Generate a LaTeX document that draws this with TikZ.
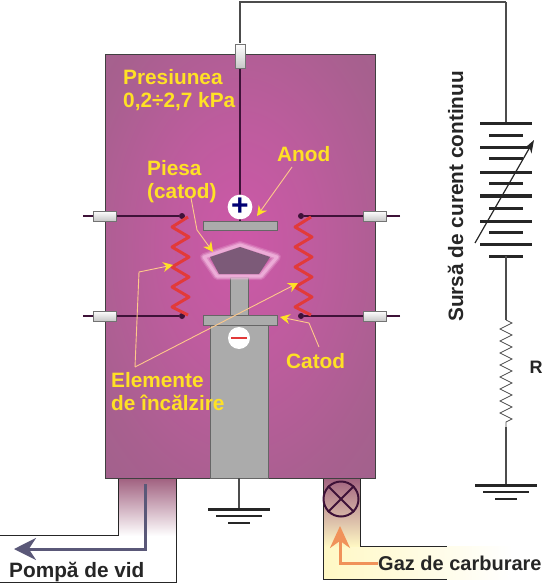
\documentclass[tikz,border=0pt]{standalone}
\usepackage{fontspec}
\setmainfont{Liberation Sans}
\usetikzlibrary{arrows.meta, decorations.pathmorphing}
\definecolor{lblYellow}{HTML}{FFE125}
\definecolor{leadPeach}{HTML}{FFC98A}
\definecolor{wallPurple}{HTML}{A0607F}
\definecolor{wireDark}{HTML}{3E1238}
\definecolor{pumpSlate}{HTML}{5A5878}
\definecolor{gasOrange}{HTML}{F0925A}
\definecolor{gasYellow}{HTML}{FFF8C4}
\definecolor{plateGray}{HTML}{ABABAB}
\definecolor{coilRed}{HTML}{E23A3A}
\definecolor{glowA}{HTML}{CD58A8}
\definecolor{glowB}{HTML}{BE5C9E}
\definecolor{glowC}{HTML}{A8608F}
\definecolor{glowD}{HTML}{986487}
\definecolor{pieceDark}{HTML}{7C5A78}
\definecolor{pieceGlow}{HTML}{F0B4DC}
\pgfdeclareradialshading{chamberGlow}{\pgfpoint{0bp}{3bp}}{
    color(0bp)=(glowA);
    color(14bp)=(glowB);
    color(30bp)=(glowC);
    color(48bp)=(glowD);
    color(60bp)=(wallPurple);
    color(100bp)=(wallPurple)}
\tikzset{
    >=Stealth,
    % Body
    chamber/.style={rectangle, draw=black!75, line width=1pt, shade, shading=chamberGlow,
                    minimum width=270pt, minimum height=423pt, inner sep=0pt},
    plate/.style={rectangle, draw=black!60, fill=plateGray, line width=.7pt, inner sep=0pt},
    bushing/.style={rectangle, draw=black!55, line width=.6pt, inner sep=0pt,
                    top color=white, bottom color=black!22},
    sign/.style={circle, fill=white, minimum size=22pt, inner sep=0pt},
    dot/.style={circle, fill=wireDark, minimum size=6pt, inner sep=0pt},
    valve/.style={circle, draw=wireDark, line width=2pt, minimum size=35pt, inner sep=0pt},
    % Lines
    wire/.style={line width=1.2pt, draw=wireDark},
    outwire/.style={line width=1.3pt, draw=black!70},
    pipeline/.style={line width=1pt, draw=black!85},
    cell/.style={line width=3pt, draw=black!85},
    leader/.style={line width=.9pt, draw=leadPeach,
                   -{Stealth[length=10pt, width=10pt, color=lblYellow]}},
    % Labels
    lbl/.style={font=\fontsize{20.8}{23}\selectfont\bfseries, text=lblYellow, inner sep=0pt, align=left},
    lblDark/.style={font=\fontsize{20.8}{23}\selectfont\bfseries, text=black!85, inner sep=0pt},
    % Pics
    coil/.pic={\draw[line width=3pt, draw=coilRed, line join=round]
        (0,0) -- (-16,10) -- (1,20) -- (-16,30) -- (1,40) -- (-16,50) -- (1,60) -- (-16,70)
        -- (1,80) -- (-16,90) -- (0,98);},
    earth/.pic={
        \draw[line width=3pt, black!85] (-31,0) -- (31,0);
        \draw[line width=1.8pt, black!85] (-23,7) -- (23,7);
        \draw[line width=1.4pt, black!85] (-11,14) -- (11,14);}
}

\begin{document}
\begin{tikzpicture}[x=1pt, y=-1pt]
\useasboundingbox (0,0) rectangle (546,585);

% pipes under the chamber
\node[rectangle, minimum width=58pt, minimum height=58pt, inner sep=0pt, top color=wallPurple, bottom color=white] (pipeL) at (147,507) {};
\fill[left color=gasYellow, right color=white] (323,546) rectangle (512,579);
\node[rectangle, minimum width=37pt, minimum height=69pt, inner sep=0pt, top color=wallPurple, bottom color=gasYellow] (pipeR) at (341.5,512) {};

\node[chamber] (body) at (240,266.5) {};

% pipe walls
\coordinate (pLa) at (118,479);
\coordinate (pLb) at (118,535);
\coordinate (pLc) at (0,535);
\coordinate (pLd) at (176,479);
\coordinate (pLe) at (176,582);
\coordinate (pLf) at (0,582);
\draw[pipeline] (pLa) -- (pLb) -- (pLc);
\draw[pipeline] (pLd) -- (pLe) -- (pLf);
\coordinate (pRa) at (323,479);
\coordinate (pRb) at (323,579);
\coordinate (pRc) at (447,579);
\coordinate (pRd) at (360,479);
\coordinate (pRe) at (360,546);
\coordinate (pRf) at (447,546);
\draw[pipeline] (pRa) -- (pRb) -- (pRc);
\draw[pipeline] (pRd) -- (pRe) -- (pRf);

% wires
\coordinate (topL) at (240,2);
\coordinate (topR) at (506,2);
\coordinate (bushOut) at (240,45);
\coordinate (anodeTop) at (240,222);
\node[sign] (plus) at (240,207) {};
\node[dot] (dotLA) at (182,216) {};
\node[dot] (dotLB) at (182,316) {};
\node[dot] (dotRA) at (301,216) {};
\node[dot] (dotRB) at (301,316) {};
\coordinate (endLA) at (83,216);
\coordinate (endLB) at (83,316);
\coordinate (endRA) at (400,216);
\coordinate (endRB) at (400,316);
\draw[outwire] (bushOut) -- (topL) -- (topR);
\draw[wire] (bushOut) -- (plus);
\draw[wire] (plus) -- (anodeTop);
\foreach \a/\b in {endLA/dotLA, endLB/dotLB, endRA/dotRA, endRB/dotRB}
    \draw[wire] (\a) -- (\b);

\node[bushing, minimum width=10pt, minimum height=24pt] (bushT) at (240,56) {};
\foreach \n/\px/\py in {bLA/105/216, bLB/105/316, bRA/375/216, bRB/375/316}
    \node[bushing, minimum width=23pt, minimum height=10pt] (\n) at (\px,\py) {};

% electrodes
\node[plate, minimum width=74pt, minimum height=9pt] (anode) at (240,225.5) {};
\node[plate, minimum width=18pt, minimum height=38pt] (stem) at (239,296) {};
\node[plate, minimum width=58pt, minimum height=154pt] (base) at (239,401) {};
\node[plate, minimum width=74pt, minimum height=10pt] (cathode) at (240,320) {};
\node[sign, text=blue!45!black, font=\fontsize{30}{30}\selectfont\bfseries] at (240,207) (plusB) {+};
\node[sign] (minus) at (239,338) {};
\draw[line width=2.6pt, coilRed] (minus.center) ++(-8,0) -- ++(16,0);

% workpiece
\foreach \w/\o in {8/.25, 5.5/.45, 3/.8}
    \draw[draw=pieceGlow, line width=\w pt, opacity=\o, line join=round]
        (240,245) -- (277,257) -- (261,276) -- (217,276) -- (204,257) -- cycle;
\fill[pieceDark] (240,247) -- (270,257) -- (259,274) -- (219,274) -- (210,257) -- cycle;

% heaters
\pic at (188,217) {coil};
\pic at (311,217) {coil};

% pump and gas
\coordinate (pumpA) at (145,484);
\coordinate (pumpB) at (145,549);
\coordinate (pumpC) at (14,549);
\draw[line width=3pt, pumpSlate, -{Stealth[length=22pt, width=22pt]}] (pumpA) -- (pumpB) -- (pumpC);
\node[valve] (gasValve) at (341,499) {};
\draw[line width=2pt, wireDark] (gasValve.north west) -- (gasValve.south east);
\draw[line width=2pt, wireDark] (gasValve.north east) -- (gasValve.south west);
\node[lblDark, anchor=base west, font=\fontsize{20}{23}\selectfont\bfseries] (gas) at (378,570) {Gaz de carburare};
\coordinate (gasA) at (340,563);
\coordinate (gasB) at (340,526);
\draw[line width=3pt, gasOrange, -{Stealth[length=22pt, width=20pt]}] (gas.west |- gasA) -- (gasA) -- (gasB);
\node[lblDark, anchor=base west] (pump) at (9,577) {Pompă de vid};

% battery
\coordinate (batTop) at (506,124);
\coordinate (batBot) at (506,256);
\draw[outwire] (topR) -- (batTop);
\foreach \py in {124,148,173,196,221,244}
    \draw[cell] (480,\py) -- (532,\py);
\foreach \py in {136,159,184,208,232,256}
    \draw[cell] (489,\py) -- (523,\py);
\coordinate (batA) at (475,243);
\coordinate (batB) at (534,140);
\draw[line width=1.2pt, black!85, -{Stealth[length=13pt, width=9pt]}] (batA) -- (batB);

% resistor and earth
\coordinate (resTop) at (506,320);
\coordinate (resBot) at (506,427);
\coordinate (gndR) at (506,485);
\coordinate (gndC) at (239,509);
\draw[outwire] (batBot) -- (resTop);
\draw[line width=.8pt, black!70, decorate, decoration={zigzag, segment length=12pt, amplitude=6pt}] (resTop) -- (resBot);
\draw[outwire] (resBot) -- (gndR);
\draw[outwire] (base.south) -- (gndC);
\pic at (gndR) {earth};
\pic at (gndC) {earth};

% labels
\node[lbl, anchor=west] (press) at (123,90) {Presiunea\\0,2÷2,7 kPa};
\node[lbl, anchor=base west] (anod) at (277,162) {Anod};
\node[lbl, anchor=west] (piesa) at (147,182) {Piesa\\(catod)};
\node[lbl, anchor=base west] (catod) at (286,368) {Catod};
\node[lbl, anchor=west] (heat) at (111,392) {Elemente\\de încălzire};
\node[lblDark, anchor=base west, rotate=90] (source) at (463,322) {Sursă de curent continuu};
\node[lblDark, font=\fontsize{18}{18}\selectfont\bfseries] (rval) at (536,367) {R};

% leaders
\coordinate (tipAnod) at (257,216);
\coordinate (tipPiesa) at (213,252);
\coordinate (tipCatod) at (280,317);
\coordinate (tipHeatL) at (173,265);
\coordinate (tipHeatR) at (298,283);
\coordinate (heatRoot) at (135,367);
\draw[leader] (292,167) -- (tipAnod);
\draw[leader] (191,198) -- (197,230) -- (tipPiesa);
\draw[leader] (319,347) -- (309,323) -- (tipCatod);
\draw[leader] (heatRoot) -- (139,272) -- (tipHeatL);
\draw[leader] (heatRoot) -- (tipHeatR);
\end{tikzpicture}
\end{document}
